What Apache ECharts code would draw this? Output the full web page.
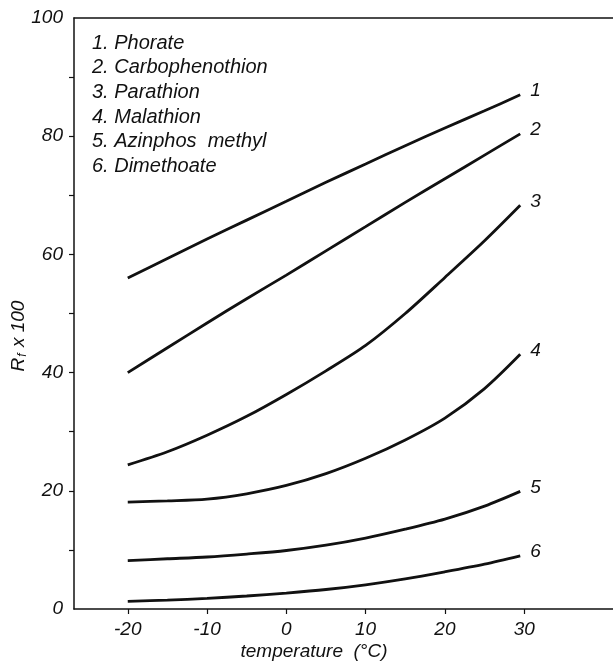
<!DOCTYPE html>
<html>
<head>
<meta charset="utf-8">
<script src="https://cdn.jsdelivr.net/npm/echarts@6/dist/echarts.min.js"></script>
<style>
  html, body { margin: 0; padding: 0; background: #fff; }
  #main { width: 613px; height: 664px; }
</style>
</head>
<body>
<div id="main"></div>
<script>
// temperature (°C) where the curves were read
const temps = [-20, -15, -10, -5, 0, 5, 10, 15, 20, 25, 29.5];
// Rf x 100 per compound
const phorate = [56, 59.3, 62.6, 65.8, 69, 72.2, 75.3, 78.4, 81.4, 84.3, 87];
const carbophenothion = [40, 44.2, 48.4, 52.5, 56.5, 60.6, 64.7, 68.8, 72.8, 76.8, 80.4];
const parathion = [24.4, 26.6, 29.4, 32.6, 36.3, 40.3, 44.6, 50.0, 56.1, 62.3, 68.3];
const malathion = [18.1, 18.3, 18.6, 19.5, 20.9, 22.9, 25.5, 28.6, 32.3, 37.3, 43.1];
const azinphosMethyl = [8.2, 8.5, 8.8, 9.3, 9.9, 10.8, 12.0, 13.5, 15.2, 17.4, 19.9];
const dimethoate = [1.3, 1.5, 1.8, 2.2, 2.7, 3.3, 4.1, 5.1, 6.3, 7.6, 9.0];

const compounds = ["Phorate", "Carbophenothion", "Parathion", "Malathion", "Azinphos  methyl", "Dimethoate"];
const seriesValues = [phorate, carbophenothion, parathion, malathion, azinphosMethyl, dimethoate];
const xTicks = [-20, -10, 0, 10, 20, 30];
const yLabels = [0, 20, 40, 60, 80, 100];
const yTicks = [10, 20, 30, 40, 50, 60, 70, 80, 90];

const FONT = "Liberation Sans";
const INK = "#111";

const myChart = echarts.init(document.getElementById("main"));

const series = seriesValues.map((vals, i) => ({
  name: compounds[i],
  type: "line",
  smooth: 0.3,
  showSymbol: false,
  data: vals.map((v, j) => [temps[j], v]),
  lineStyle: { color: INK, width: 2.8 },
  endLabel: {
    show: true,
    formatter: String(i + 1),
    distance: 10,
    offset: [0, -4],
    color: INK,
    fontFamily: FONT,
    fontStyle: "italic",
    fontSize: 19,
  },
}));

const option = {
  animation: false,
  backgroundColor: "#fff",
  grid: { left: 74, right: 0, top: 18, bottom: 55 },
  xAxis: [
    {
      type: "value",
      min: -26.78,
      max: 41.2,
      axisLine: { onZero: false, lineStyle: { color: INK, width: 1.5 } },
      axisTick: { customValues: xTicks, length: 5, lineStyle: { color: INK, width: 1.2 } },
      axisLabel: {
        customValues: xTicks,
        margin: 11,
        color: INK,
        fontFamily: FONT,
        fontStyle: "italic",
        fontSize: 19,
      },
      splitLine: { show: false },
    },
    {
      type: "value",
      position: "top",
      min: -26.78,
      max: 41.2,
      axisLine: { show: true, onZero: false, lineStyle: { color: INK, width: 1.5 } },
      axisTick: { show: false },
      axisLabel: { show: false },
      splitLine: { show: false },
    },
  ],
  yAxis: {
    type: "value",
    min: 0,
    max: 100,
    axisLine: { show: true, onZero: false, lineStyle: { color: INK, width: 1.5 } },
    axisTick: { show: true, customValues: yTicks, length: 5, lineStyle: { color: INK, width: 1.2 } },
    axisLabel: {
      customValues: yLabels,
      margin: 11,
      color: INK,
      fontFamily: FONT,
      fontStyle: "italic",
      fontSize: 19,
    },
    splitLine: { show: false },
  },
  graphic: [
    {
      type: "text",
      left: 92,
      top: 31,
      style: {
        text: compounds.map((c, i) => (i + 1) + ". " + c).join("\n"),
        font: "italic 20px 'Liberation Sans'",
        lineHeight: 24.6,
        fill: INK,
      },
    },
    {
      type: "text",
      x: 314,
      y: 652,
      style: {
        text: "temperature  (°C)",
        font: "italic 19px 'Liberation Sans'",
        fill: INK,
        align: "center",
        verticalAlign: "middle",
      },
    },
    {
      type: "text",
      x: 19,
      y: 336,
      rotation: Math.PI / 2,
      style: {
        text: "{r|R}{s|f}{r| x 100}",
        align: "center",
        verticalAlign: "middle",
        fill: INK,
        rich: {
          r: { font: "italic 19px 'Liberation Sans'", fill: INK, verticalAlign: "middle" },
          s: { font: "italic 12px 'Liberation Sans'", fill: INK, padding: [8, 1, 0, 1] },
        },
      },
    },
  ],
  series: series,
};

option && myChart.setOption(option);
</script>
</body>
</html>
